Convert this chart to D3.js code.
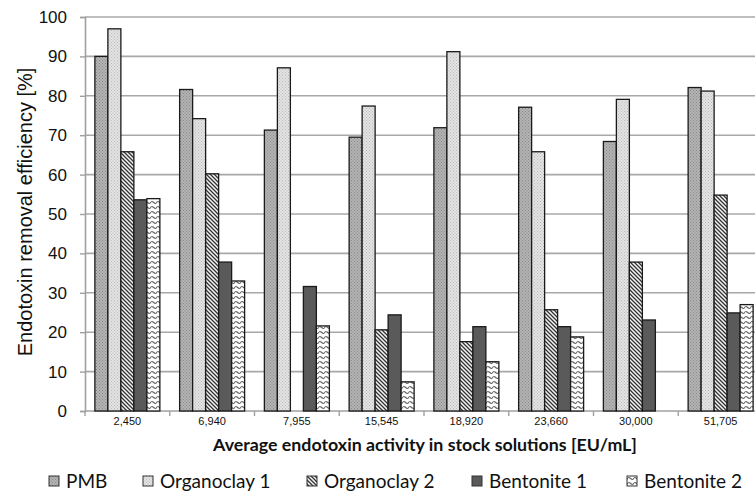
<!DOCTYPE html>
<html>
<head>
<meta charset="utf-8">
<script src="https://cdnjs.cloudflare.com/ajax/libs/d3/7.8.5/d3.min.js"></script>
<style>
  html, body { margin: 0; padding: 0; background: #fff; overflow: hidden; }
  svg { display: block; }
</style>
</head>
<body>
<svg id="chart" width="755" height="494"></svg>
<script>
// ---- data ----
const categories = ["2,450", "6,940", "7,955", "15,545", "18,920", "23,660", "30,000", "51,705"];
const seriesNames = ["PMB", "Organoclay 1", "Organoclay 2", "Bentonite 1", "Bentonite 2"];
const pmb        = [90.0, 81.6, 71.3, 69.5, 71.9, 77.1, 68.4, 82.1];
const organoclay1 = [97.0, 74.2, 87.1, 77.4, 91.2, 65.8, 79.1, 81.2];
const organoclay2 = [65.8, 60.2, null, 20.6, 17.6, 25.7, 37.8, 54.8];
const bentonite1 = [53.6, 37.8, 31.6, 24.4, 21.4, 21.4, 23.1, 24.9];
const bentonite2 = [53.9, 33.0, 21.6, 7.4, 12.5, 18.8, null, 27.0];
const yTicks = [0, 10, 20, 30, 40, 50, 60, 70, 80, 90, 100];

const seriesValues = [pmb, organoclay1, organoclay2, bentonite1, bentonite2];

const svg = d3.select("#chart");
const defs = svg.append("defs");

// ---- patterns ----
function dotPattern(id, bg, dot) {
  const p = defs.append("pattern").attr("id", id).attr("patternUnits", "userSpaceOnUse")
    .attr("width", 3).attr("height", 3);
  p.append("rect").attr("width", 3).attr("height", 3).attr("fill", bg);
  p.append("rect").attr("x", 0).attr("y", 0).attr("width", 1).attr("height", 1).attr("fill", dot);
  p.append("rect").attr("x", 1.5).attr("y", 1.5).attr("width", 1).attr("height", 1).attr("fill", dot);
}
dotPattern("pPMB", "#b4b4b4", "#8a8a8a");
dotPattern("pOrg1", "#e4e4e4", "#bbbbbb");
{
  const p = defs.append("pattern").attr("id", "pOrg2").attr("patternUnits", "userSpaceOnUse")
    .attr("width", 4).attr("height", 4);
  p.append("rect").attr("width", 4).attr("height", 4).attr("fill", "#f4f4f4");
  p.append("path").attr("d", "M-1,-1 L5,5 M-1,3 L1,5 M3,-1 L5,1")
    .attr("stroke", "#333").attr("stroke-width", 1.3);
}
{
  const p = defs.append("pattern").attr("id", "pBent2").attr("patternUnits", "userSpaceOnUse")
    .attr("width", 6).attr("height", 5);
  p.append("rect").attr("width", 6).attr("height", 5).attr("fill", "#ffffff");
  p.append("path").attr("d", "M0,3.5 Q1.5,0.5 3,2 T6,3.5")
    .attr("fill", "none").attr("stroke", "#666").attr("stroke-width", 1.1);
}
const fills = ["url(#pPMB)", "url(#pOrg1)", "url(#pOrg2)", "#5a5a5a", "url(#pBent2)"];

// ---- scales ----
const x0 = d3.scaleBand().domain(categories).range([85, 763]).paddingInner(0).paddingOuter(0);
const x1 = d3.scaleBand().domain(seriesNames).range([0, x0.bandwidth()]).paddingInner(0).paddingOuter(0.76);
const y = d3.scaleLinear().domain([0, 100]).range([411, 17]);

// ---- gridlines ----
svg.append("g").selectAll("line").data(yTicks.filter(d => d > 0)).join("line")
  .attr("x1", 85).attr("x2", 755)
  .attr("y1", d => y(d)).attr("y2", d => y(d))
  .attr("stroke", "#a8a8a8").attr("stroke-width", 1.6);

// ---- y axis ----
const yAxis = d3.axisLeft(y).tickValues(yTicks).tickSize(5).tickPadding(13);
const gy = svg.append("g").attr("transform", "translate(85,0)").call(yAxis);
gy.select(".domain").attr("stroke", "#a0a0a0").attr("stroke-width", 1.6);
gy.selectAll(".tick line").attr("stroke", "#a0a0a0").attr("stroke-width", 1.4);
gy.selectAll(".tick text").attr("font-family", "'Liberation Sans', Arial, sans-serif")
  .attr("font-size", 17).attr("fill", "#111");

// ---- x axis ----
const xAxis = d3.axisBottom(x0).tickSize(0).tickPadding(6);
const gx = svg.append("g").attr("transform", "translate(0,411)").call(xAxis);
gx.select(".domain").remove();
gx.selectAll(".tick text").attr("font-family", "'Liberation Sans', Arial, sans-serif")
  .attr("font-size", 11).attr("fill", "#111");
svg.append("line").attr("x1", 85).attr("x2", 755).attr("y1", 411).attr("y2", 411)
  .attr("stroke", "#a0a0a0").attr("stroke-width", 1.6);
svg.append("g").selectAll("line").data(categories).join("line")
  .attr("x1", d => x0(d)).attr("x2", d => x0(d))
  .attr("y1", 411).attr("y2", 416)
  .attr("stroke", "#a0a0a0").attr("stroke-width", 1.4);

// ---- bars ----
const barData = [];
categories.forEach((c, ci) => {
  seriesNames.forEach((s, si) => {
    const v = seriesValues[si][ci];
    if (v !== null && v !== undefined) barData.push({ c, s, si, v });
  });
});
svg.append("g").selectAll("rect").data(barData).join("rect")
  .attr("x", d => x0(d.c) + x1(d.s))
  .attr("y", d => y(d.v))
  .attr("width", x1.bandwidth())
  .attr("height", d => y(0) - y(d.v))
  .attr("fill", d => fills[d.si])
  .attr("stroke", "#1a1a1a").attr("stroke-width", 1.3);

// ---- axis titles ----
svg.append("text")
  .attr("transform", "translate(32,212) rotate(-90)")
  .attr("text-anchor", "middle")
  .attr("font-family", "'Liberation Sans', Arial, sans-serif")
  .attr("font-size", 20).attr("fill", "#111")
  .text("Endotoxin removal efficiency [%]");

svg.append("text")
  .attr("x", 425).attr("y", 451)
  .attr("text-anchor", "middle")
  .attr("font-family", "Lato, 'Open Sans', sans-serif")
  .attr("font-weight", "bold")
  .attr("font-size", 17.8).attr("fill", "#111")
  .text("Average endotoxin activity in stock solutions [EU/mL]");

// ---- legend ----
const legendX = [49, 143, 307, 472, 627];
const lg = svg.append("g").selectAll("g").data(seriesNames).join("g")
  .attr("transform", (d, i) => `translate(${legendX[i]},476)`);
lg.append("rect").attr("width", 10).attr("height", 10)
  .attr("fill", (d, i) => fills[i]).attr("stroke", "#333").attr("stroke-width", 1);
lg.append("text").attr("x", 17).attr("y", 11.5)
  .attr("font-family", "Lato, 'Open Sans', sans-serif")
  .attr("font-size", 19).attr("fill", "#111")
  .text(d => d);
</script>
</body>
</html>
